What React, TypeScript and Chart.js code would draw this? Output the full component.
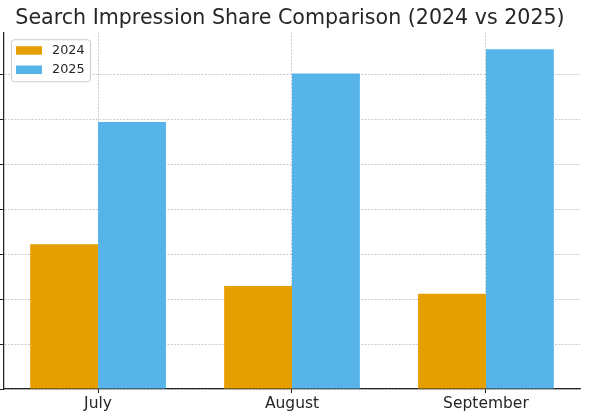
import React, { useEffect, useRef } from 'react';
import { Chart, registerables } from 'chart.js';

Chart.register(...registerables);

const categories = ['July', 'August', 'September'];
const seriesNames = ['2024', '2025'];
const values2024 = [32.2, 22.9, 21.2];
const values2025 = [59.4, 70.2, 75.6];
const yTickValues = [0, 10, 20, 30, 40, 50, 60, 70];
const seriesColors = ['#E69F00', '#56B4E9'];
const titleText = 'Search Impression Share Comparison (2024 vs 2025)';

const FONT = "'DejaVu Sans', sans-serif";
const TEXT_COLOR = '#262626';
const GRID_COLOR = 'rgba(0,0,0,0.26)';

const boxLegend = {
  id: 'boxLegend',
  afterDraw(chart: any) {
    const { ctx, chartArea } = chart;
    const x = chartArea.left + 7;
    const y = chartArea.top + 7;
    const w = 79;
    const h = 42;
    ctx.save();
    ctx.beginPath();
    if (ctx.roundRect) ctx.roundRect(x + 0.5, y + 0.5, w, h, 3);
    else ctx.rect(x + 0.5, y + 0.5, w, h);
    ctx.fillStyle = 'rgba(255,255,255,0.8)';
    ctx.fill();
    ctx.strokeStyle = '#cccccc';
    ctx.lineWidth = 1;
    ctx.stroke();
    chart.data.datasets.forEach((ds: any, i: number) => {
      const ry = y + 7 + i * 19.3;
      ctx.fillStyle = ds.backgroundColor;
      ctx.fillRect(x + 5, ry, 26, 8.5);
      ctx.fillStyle = TEXT_COLOR;
      ctx.font = `12.8px ${FONT}`;
      ctx.textBaseline = 'middle';
      ctx.textAlign = 'left';
      ctx.fillText(ds.label, x + 41, ry + 4.5);
    });
    ctx.restore();
  },
};

export default function App() {
  const ref = useRef<HTMLCanvasElement | null>(null);

  useEffect(() => {
    if (!ref.current) return;
    const yMax = Math.max(...values2024, ...values2025) * 1.05;
    const n = categories.length;
    const xPad = (n - 1 + 0.7) * 0.05;
    const chart = new Chart(ref.current, {
      type: 'bar',
      data: {
        datasets: [
          {
            label: seriesNames[0],
            data: values2024.map((v, i) => ({ x: i, y: v })),
            backgroundColor: seriesColors[0],
            borderWidth: 0,
          },
          {
            label: seriesNames[1],
            data: values2025.map((v, i) => ({ x: i, y: v })),
            backgroundColor: seriesColors[1],
            borderWidth: 0,
          },
        ],
      },
      options: {
        responsive: false,
        animation: false,
        devicePixelRatio: 1,
        layout: { padding: { left: 0, right: 9, top: 0, bottom: 0 } },
        datasets: {
          bar: { categoryPercentage: 0.7, barPercentage: 1.0 },
        },
        plugins: {
          legend: { display: false },
          tooltip: { enabled: false },
          title: {
            display: true,
            text: titleText,
            color: TEXT_COLOR,
            font: { family: FONT, size: 20.6, weight: 'normal' },
            padding: { top: 6, bottom: 1.5 },
          },
        },
        scales: {
          x: {
            type: 'linear',
            offset: false,
            min: -0.35 - xPad,
            max: n - 1 + 0.35 + xPad,
            afterBuildTicks: (scale: any) => {
              scale.ticks = categories.map((_, i) => ({ value: i }));
            },
            afterFit: (scale: any) => {
              scale.height = 28;
            },
            ticks: {
              color: TEXT_COLOR,
              font: { family: FONT, size: 15.5 },
              padding: 2,
              maxRotation: 0,
              autoSkip: false,
              callback: (v: any) => categories[Math.round(Number(v))] ?? '',
            },
            grid: {
              offset: false,
              color: GRID_COLOR,
              lineWidth: 0.8,
              tickColor: '#222222',
              tickLength: 4,
              tickWidth: 1,
              drawTicks: true,
            },
            border: { display: true, color: '#222222', width: 1.25, dash: [2, 1.4] },
          },
          y: {
            type: 'linear',
            min: 0,
            max: yMax,
            afterBuildTicks: (scale: any) => {
              scale.ticks = yTickValues.map((v) => ({ value: v }));
            },
            afterFit: (scale: any) => {
              scale.width = 4;
            },
            ticks: { display: false },
            grid: {
              color: GRID_COLOR,
              lineWidth: 0.8,
              tickColor: '#222222',
              tickLength: 4,
              tickWidth: 1,
              drawTicks: true,
            },
            border: { display: true, color: '#222222', width: 1.25, dash: [2, 1.4] },
          },
        },
      },
      plugins: [boxLegend],
    } as any);
    return () => chart.destroy();
  }, []);

  return (
    <div style={{ position: 'fixed', left: 0, top: 0, width: 589, height: 417, background: '#fff' }}>
      <canvas ref={ref} width={589} height={417} style={{ display: 'block' }} />
    </div>
  );
}
